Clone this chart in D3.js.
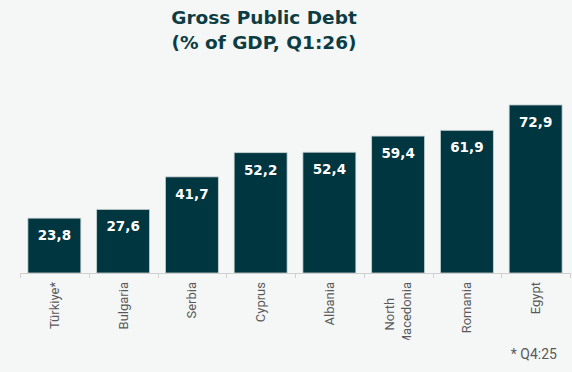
<!DOCTYPE html>
<html>
<head>
<meta charset="utf-8">
<script src="https://cdn.jsdelivr.net/npm/d3@7"></script>
<style>
  html, body { margin: 0; padding: 0; background: #f5f7f7; }
  svg { display: block; }
</style>
</head>
<body>
<svg id="chart" width="572" height="372"></svg>
<script>
// Gross public debt by country, % of GDP
const countries = ["Türkiye*", "Bulgaria", "Serbia", "Cyprus", "Albania", "North|Macedonia", "Romania", "Egypt"];
const debtValues = [23.8, 27.6, 41.7, 52.2, 52.4, 59.4, 61.9, 72.9];
const titleLines = ["Gross Public Debt", "(% of GDP, Q1:26)"];
const footnote = "* Q4:25";

const W = 572, H = 372;
const svg = d3.select("#chart");
svg.append("rect").attr("width", W).attr("height", H).attr("fill", "#f5f7f7");

const margin = { left: 20, right: 2, baseline: 273 };

const x = d3.scaleBand()
  .domain(countries)
  .range([margin.left, W - margin.right])
  .paddingInner(0.23)
  .paddingOuter(0.115);

const y = d3.scaleLinear()
  .domain([0, 80])
  .range([margin.baseline, margin.baseline - 184.4]);

// Title
svg.append("g").selectAll("text")
  .data(titleLines)
  .join("text")
  .attr("x", 264)
  .attr("y", (d, i) => 24 + i * 24.5)
  .attr("text-anchor", "middle")
  .attr("font-family", "'DejaVu Sans', sans-serif")
  .attr("font-weight", 700)
  .attr("font-size", 18.5)
  .attr("fill", "#0d3d42")
  .text(d => d);

// Bars
svg.append("g").selectAll("rect")
  .data(countries)
  .join("rect")
  .attr("x", d => x(d))
  .attr("y", (d, i) => y(debtValues[i]))
  .attr("width", x.bandwidth())
  .attr("height", (d, i) => y(0) - y(debtValues[i]))
  .attr("fill", "#003640")
  .attr("stroke", "#c9d0d1")
  .attr("stroke-width", 0.8);

// Value labels inside bars
svg.append("g").selectAll("text")
  .data(countries)
  .join("text")
  .attr("x", d => x(d) + x.bandwidth() / 2)
  .attr("y", (d, i) => y(debtValues[i]) + 22)
  .attr("text-anchor", "middle")
  .attr("font-family", "'DejaVu Sans', sans-serif")
  .attr("font-weight", 700)
  .attr("font-size", 13.5)
  .attr("fill", "#ffffff")
  .text((d, i) => d3.format(".1f")(debtValues[i]).replace(".", ","));

// Category axis
const axisG = svg.append("g")
  .attr("transform", `translate(0,${margin.baseline})`);
const stepPx = x.step();
const tickXs = d3.range(countries.length + 1).map(i => margin.left + i * stepPx);
axisG.append("line")
  .attr("x1", margin.left).attr("x2", W - margin.right)
  .attr("y1", 0.5).attr("y2", 0.5)
  .attr("stroke", "#cfcfcf").attr("stroke-width", 1);
axisG.selectAll("line.tick")
  .data(tickXs)
  .join("line")
  .attr("class", "tick")
  .attr("x1", d => Math.round(d) + 0.5).attr("x2", d => Math.round(d) + 0.5)
  .attr("y1", 0).attr("y2", 5)
  .attr("stroke", "#cfcfcf").attr("stroke-width", 1);

// Rotated category labels, clipped to the label area
const defs = svg.append("defs");
defs.append("clipPath").attr("id", "labelClip")
  .append("rect").attr("x", 0).attr("y", 0).attr("width", W).attr("height", 340);

const labels = svg.append("g").attr("clip-path", "url(#labelClip)")
  .selectAll("g")
  .data(countries)
  .join("g")
  .attr("transform", d => `translate(${x(d) + x.bandwidth() / 2},${margin.baseline + 9}) rotate(-90)`);

labels.each(function(d) {
  const lines = d.split("|");
  const g = d3.select(this);
  const lh = 17.5;
  const texts = lines.map((ln, i) => g.append("text")
      .attr("y", (i - (lines.length - 1) / 2) * lh + 4.5)
      .attr("font-family", "Roboto, 'Open Sans', sans-serif")
      .attr("font-size", 13)
      .attr("fill", "#595959")
      .text(ln));
  // multi-line labels are centred on each other, block right-aligned to the axis
  const maxLen = d3.max(texts, t => t.node().getComputedTextLength());
  texts.forEach(t => t.attr("x", -maxLen / 2).attr("text-anchor", "middle"));
});

// Footnote
svg.append("text")
  .attr("x", 557)
  .attr("y", 359)
  .attr("text-anchor", "end")
  .attr("font-family", "Roboto, 'Liberation Sans', sans-serif")
  .attr("font-size", 14)
  .attr("fill", "#595959")
  .text(footnote);
</script>
</body>
</html>
